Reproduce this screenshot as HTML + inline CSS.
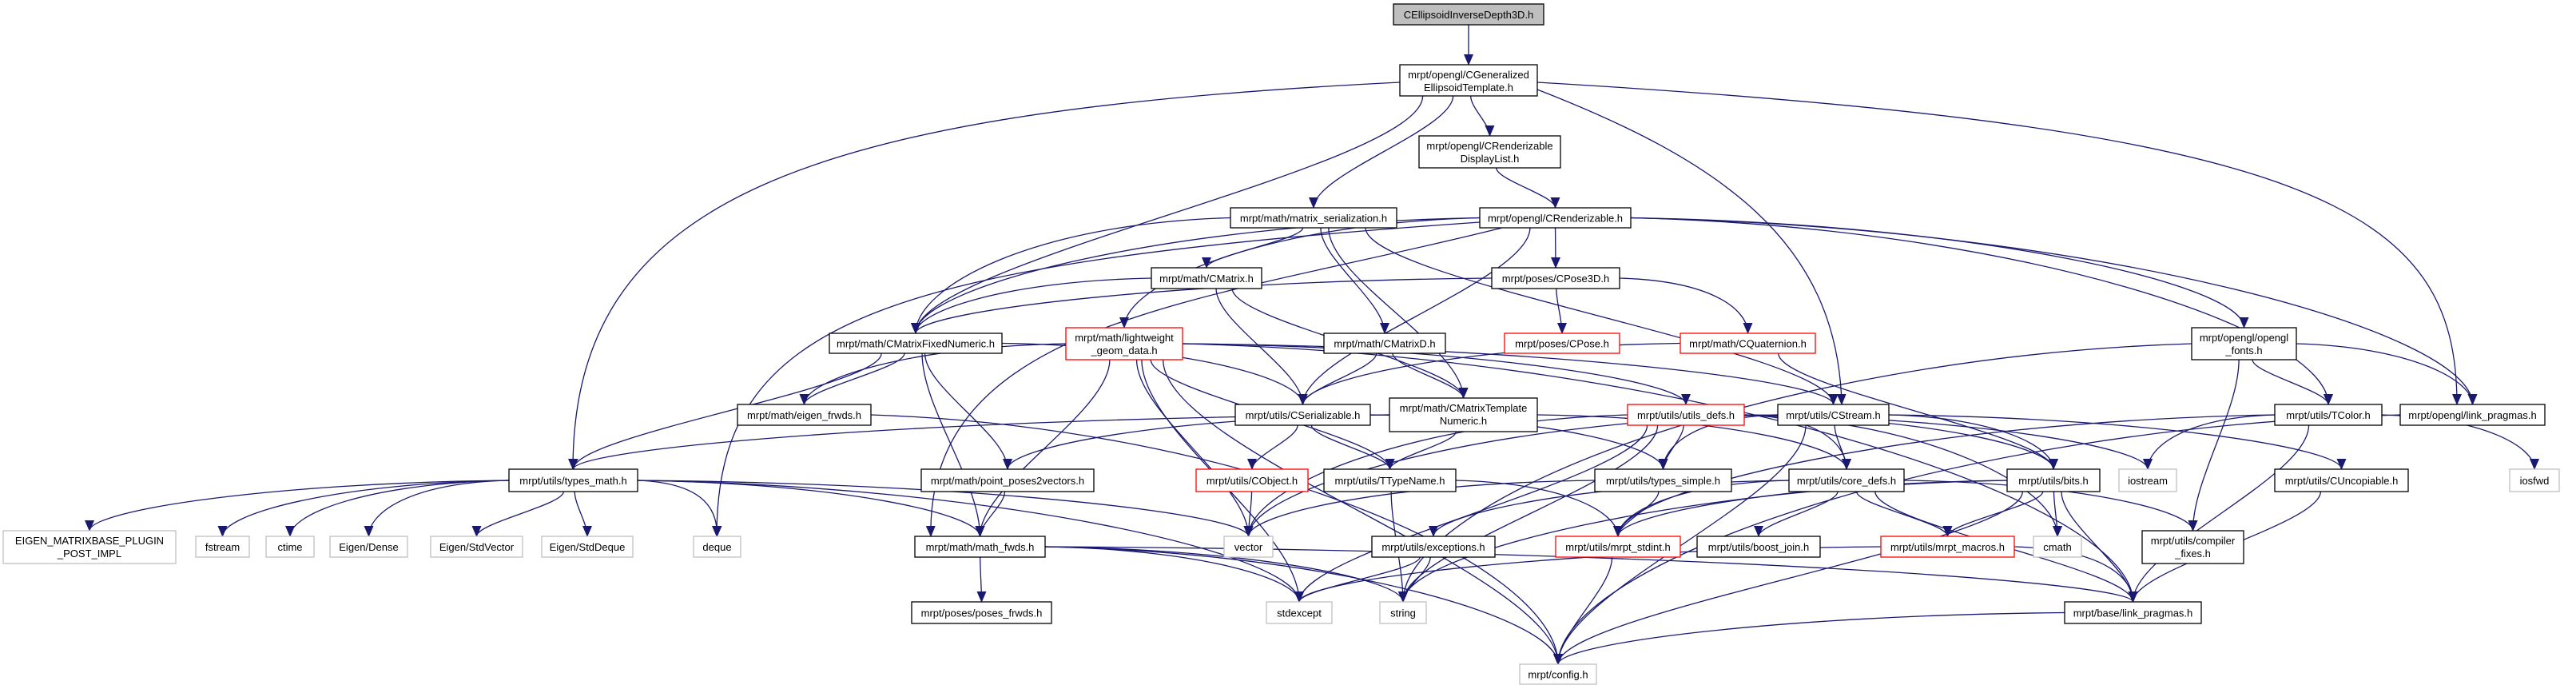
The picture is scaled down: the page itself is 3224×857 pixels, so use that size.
<!DOCTYPE html>
<html><head><meta charset="utf-8"><style>
html,body{margin:0;padding:0;background:#fff;width:3224px;height:857px;overflow:hidden}
svg{display:block}
text{font-family:"Liberation Sans",Arial,sans-serif;font-size:13px;fill:#000}
</style></head><body>
<svg id="g" width="3224" height="857" viewBox="0 0 3224 857" xmlns="http://www.w3.org/2000/svg">
<defs><marker id="a" markerUnits="userSpaceOnUse" markerWidth="14" markerHeight="12" refX="13" refY="6" orient="auto"><path d="M0,0 L14,6 L0,12 z" fill="#191970"/></marker></defs>
<g id="edges" fill="none" stroke="#191970" stroke-width="1.3"></g>
<g id="nodes" stroke-width="1.3"></g>
</svg>
<script>
var N={
1:[1744,5,1932,31,"CEllipsoidInverseDepth3D.h","",'h'],
2:[1752,81,1924,120,"mrpt/opengl/CGeneralized","EllipsoidTemplate.h"],
3:[1776,170,1953,210,"mrpt/opengl/CRenderizable","DisplayList.h"],
4:[1540,260,1748,285,"mrpt/math/matrix_serialization.h"],
5:[1852,260,2041,285,"mrpt/opengl/CRenderizable.h"],
6:[1441,335,1579,361,"mrpt/math/CMatrix.h"],
7:[1867,335,2027,361,"mrpt/poses/CPose3D.h"],
8:[1038,417,1254,442,"mrpt/math/CMatrixFixedNumeric.h"],
9:[1334,410,1480,450,"mrpt/math/lightweight","_geom_data.h",'r'],
10:[1657,417,1809,442,"mrpt/math/CMatrixD.h"],
11:[1883,417,2027,442,"mrpt/poses/CPose.h","",'r'],
12:[2103,417,2272,442,"mrpt/math/CQuaternion.h","",'r'],
13:[2743,410,2874,450,"mrpt/opengl/opengl","_fonts.h"],
14:[923,506,1090,532,"mrpt/math/eigen_frwds.h"],
15:[1546,506,1715,532,"mrpt/utils/CSerializable.h"],
16:[1739,498,1924,540,"mrpt/math/CMatrixTemplate","Numeric.h"],
17:[2037,506,2183,532,"mrpt/utils/utils_defs.h","",'r'],
18:[2225,506,2364,532,"mrpt/utils/CStream.h"],
19:[2847,506,2981,532,"mrpt/utils/TColor.h"],
20:[3004,506,3185,532,"mrpt/opengl/link_pragmas.h"],
21:[637,587,798,615,"mrpt/utils/types_math.h"],
22:[1153,587,1369,615,"mrpt/math/point_poses2vectors.h"],
23:[1497,587,1637,615,"mrpt/utils/CObject.h","",'r'],
24:[1657,587,1822,615,"mrpt/utils/TTypeName.h"],
25:[1996,587,2167,615,"mrpt/utils/types_simple.h"],
26:[2239,587,2383,615,"mrpt/utils/core_defs.h"],
27:[2512,587,2628,615,"mrpt/utils/bits.h"],
28:[2652,587,2724,615,"iostream","",'g'],
29:[2847,587,3014,615,"mrpt/utils/CUncopiable.h"],
30:[3141,587,3203,615,"iosfwd","",'g'],
31:[4,664,220,705,"EIGEN_MATRIXBASE_PLUGIN","_POST_IMPL",'g'],
32:[245,671,312,697,"fstream","",'g'],
33:[333,671,393,697,"ctime","",'g'],
34:[413,671,510,697,"Eigen/Dense","",'g'],
35:[539,671,654,697,"Eigen/StdVector","",'g'],
36:[678,671,792,697,"Eigen/StdDeque","",'g'],
37:[868,671,927,697,"deque","",'g'],
38:[1145,671,1308,697,"mrpt/math/math_fwds.h"],
39:[1532,671,1593,697,"vector","",'g'],
40:[1717,671,1871,697,"mrpt/utils/exceptions.h"],
41:[1947,671,2103,697,"mrpt/utils/mrpt_stdint.h","",'r'],
42:[2124,671,2278,697,"mrpt/utils/boost_join.h"],
43:[2354,671,2521,697,"mrpt/utils/mrpt_macros.h","",'r'],
44:[2545,671,2605,697,"cmath","",'g'],
45:[2681,664,2808,705,"mrpt/utils/compiler","_fixes.h"],
46:[1141,753,1316,780,"mrpt/poses/poses_frwds.h"],
47:[1585,753,1667,780,"stdexcept","",'g'],
48:[1727,753,1785,780,"string","",'g'],
49:[2584,753,2755,780,"mrpt/base/link_pragmas.h"],
50:[1902,831,1998,856,"mrpt/config.h","",'g']
};
var C={
"2-21":"M1752,103 C1000,140 717,250 717,587",
"2-20":"M1924,103 C2900,160 3075,260 3075,506",
"2-18":"M1924,112 C2150,200 2300,300 2305,506",
"5-37":"M1852,278 C1100,330 897,400 897,671",
"5-38":"M1880,285 C1500,380 1160,400 1165,671"
};
var E="1-2 2-21 2-8 2-4 2-3 2-18 2-20 3-5 4-6 4-8 4-10 4-16 4-18 5-7 5-9 5-8 5-37 5-15 5-13 5-19 5-20 5-38 6-8 6-15 6-16 7-8 7-11 7-12 8-14 8-21 8-15 8-22 8-38 9-14 9-38 9-24 9-39 9-47 9-50 9-17 9-18 9-49 10-15 10-16 12-15 12-27 13-19 13-20 13-45 13-48 14-50 15-23 15-24 15-25 16-21 16-22 16-24 16-26 17-25 17-26 17-27 17-28 17-39 17-44 17-48 17-47 18-26 18-27 18-25 18-29 18-39 18-50 19-28 19-30 19-41 19-49 20-50 21-31 21-32 21-33 21-34 21-35 21-36 21-37 21-38 21-39 21-47 22-38 23-39 24-41 24-48 25-39 25-41 26-40 26-41 26-42 26-43 26-45 26-49 27-41 27-43 27-44 27-48 27-49 27-50 29-49 38-46 38-47 38-48 38-49 38-50 40-47 40-48 41-50 43-47 43-49 49-50".split(" ");
var NS="http://www.w3.org/2000/svg",eg=document.getElementById("edges"),ng=document.getElementById("nodes");
function el(t,a,p){var e=document.createElementNS(NS,t);for(var k in a)e.setAttribute(k,a[k]);p.appendChild(e);return e;}
E.forEach(function(s){var p=s.split("-"),a=N[p[0]],b=N[p[1]];
var sx=(a[0]+a[2])/2,sy=a[3],tx=(b[0]+b[2])/2,ty=b[1],d;
var dx=tx-sx,dy=ty-sy;
if(C[s]){d=C[s];}
else if(Math.abs(dx)>3*dy){
 if(dx<0){sx=a[0];sy=(a[1]+a[3])/2;}else{sx=a[2];sy=(a[1]+a[3])/2;}
 dy=ty-sy;
 d="M"+sx+","+sy+" C"+(sx+dx*0.5)+","+(sy+dy*0.05)+" "+tx+","+(ty-dy*0.4)+" "+tx+","+ty;
}else{
 sx=sx+Math.max(-(a[2]-a[0])/3,Math.min((a[2]-a[0])/3,dx*0.1));
 d="M"+sx+","+sy+" C"+sx+","+(sy+dy*0.3)+" "+tx+","+(ty-dy*0.3)+" "+tx+","+ty;
}
el("path",{d:d,"marker-end":"url(#a)"},eg);});
for(var k in N){var n=N[k],st=n[6]=='r'?'#ff0000':(n[6]=='g'?'#c0c0c0':'#000000');
el("rect",{x:n[0],y:n[1],width:n[2]-n[0],height:n[3]-n[1],fill:n[6]=='h'?'#bfbfbf':'#fff',stroke:st},ng);
var cx=(n[0]+n[2])/2;
if(n[5]){var t=el("text",{x:cx,y:n[1]+17,"text-anchor":"middle"},ng);t.textContent=n[4];
var t2=el("text",{x:cx,y:n[1]+33,"text-anchor":"middle"},ng);t2.textContent=n[5];}
else{var t=el("text",{x:cx,y:(n[1]+n[3])/2+5,"text-anchor":"middle"},ng);t.textContent=n[4];}}
</script>
</body></html>
